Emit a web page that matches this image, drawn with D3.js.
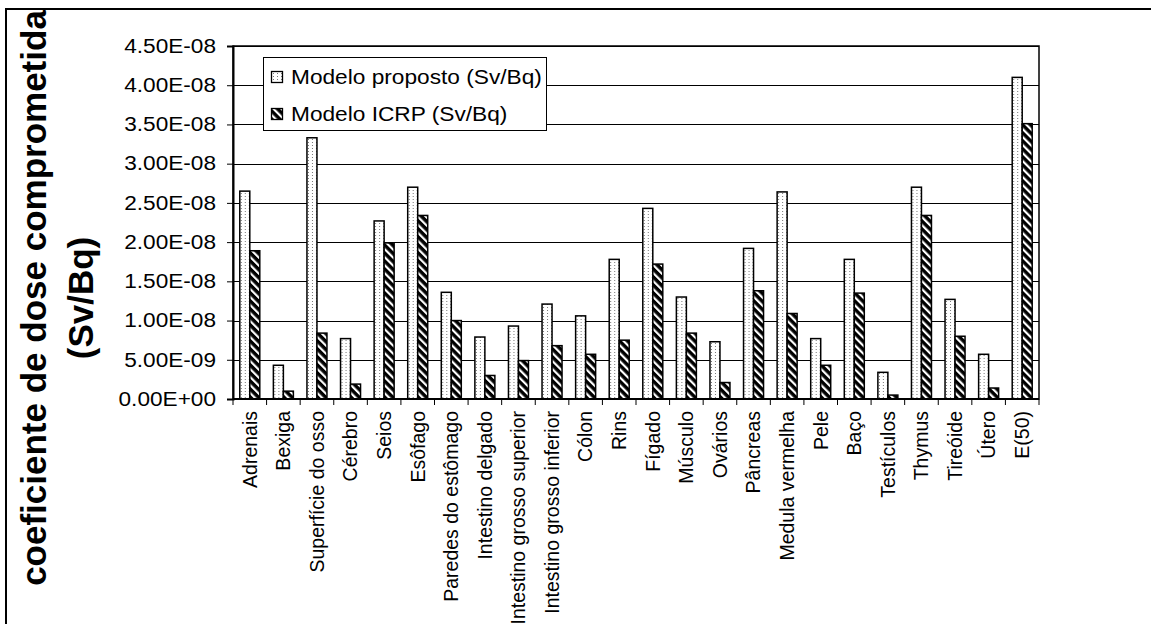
<!DOCTYPE html>
<html>
<head>
<meta charset="utf-8">
<script src="https://cdn.jsdelivr.net/npm/d3@7"></script>
<style>
  body { margin: 0; background: #fff; }
  svg { display: block; font-family: "Liberation Sans", Arial, sans-serif; }
</style>
</head>
<body>
<div id="chart"></div>
<script>
const categories = ['Adrenais', 'Bexiga', 'Superfície do osso', 'Cérebro', 'Seios', 'Esôfago',
  'Paredes do estômago', 'Intestino delgado', 'Intestino grosso superior', 'Intestino grosso inferior',
  'Cólon', 'Rins', 'Fígado', 'Músculo', 'Ovários', 'Pâncreas', 'Medula vermelha', 'Pele', 'Baço',
  'Testículos', 'Thymus', 'Tireóide', 'Útero', 'E(50)'];
const proposto = [2.65e-8, 0.43e-8, 3.33e-8, 0.77e-8, 2.27e-8, 2.70e-8, 1.36e-8, 0.79e-8, 0.93e-8, 1.21e-8,
  1.06e-8, 1.78e-8, 2.43e-8, 1.30e-8, 0.73e-8, 1.92e-8, 2.64e-8, 0.77e-8, 1.78e-8, 0.34e-8, 2.70e-8,
  1.27e-8, 0.57e-8, 4.10e-8];
const icrp = [1.89e-8, 0.10e-8, 0.84e-8, 0.19e-8, 1.99e-8, 2.34e-8, 1.00e-8, 0.30e-8, 0.49e-8, 0.68e-8,
  0.57e-8, 0.75e-8, 1.72e-8, 0.84e-8, 0.21e-8, 1.38e-8, 1.09e-8, 0.43e-8, 1.35e-8, 0.05e-8, 2.34e-8,
  0.80e-8, 0.14e-8, 3.51e-8];
const seriesNames = ['Modelo proposto (Sv/Bq)', 'Modelo ICRP (Sv/Bq)'];
const yTicks = [0, 0.5e-8, 1.0e-8, 1.5e-8, 2.0e-8, 2.5e-8, 3.0e-8, 3.5e-8, 4.0e-8, 4.5e-8];
const yTitle = ['coeficiente de dose comprometida', '(Sv/Bq)'];

const width = 1151, height = 624;
const plot = { left: 233, right: 1039, top: 46, bottom: 399 };

const svg = d3.select('#chart').append('svg').attr('width', width).attr('height', height);
svg.append('rect').attr('width', width).attr('height', height).attr('fill', '#fff');

const defs = svg.append('defs');
const dots = defs.append('pattern').attr('id', 'dots').attr('patternUnits', 'userSpaceOnUse')
  .attr('width', 4).attr('height', 3);
dots.append('rect').attr('width', 4).attr('height', 3).attr('fill', '#fff');
dots.append('rect').attr('x', 1).attr('y', 1).attr('width', 1).attr('height', 1).attr('fill', '#777');

const stripes = defs.append('pattern').attr('id', 'stripes').attr('patternUnits', 'userSpaceOnUse')
  .attr('width', 5.66).attr('height', 10).attr('patternTransform', 'rotate(-45)');
stripes.append('rect').attr('width', 5.66).attr('height', 10).attr('fill', '#000');
stripes.append('rect').attr('width', 2.2).attr('height', 10).attr('fill', '#fff');

// outer frame (only top and left visible)
svg.append('path').attr('d', `M6,${height} V9 H${width}`).attr('fill', 'none')
  .attr('stroke', '#000').attr('stroke-width', 2);

const x = d3.scaleBand().domain(categories).range([plot.left, plot.right]);
const y = d3.scaleLinear().domain([0, 4.5e-8]).range([plot.bottom, plot.top]);
const barW = 10;
const groupOffset = (x.bandwidth() - 2 * barW) / 2;

const fmt = (v) => {
  const [m, e] = v.toExponential(2).split('e');
  const n = Math.abs(+e);
  return `${m}E${+e < 0 ? '-' : '+'}${String(n).padStart(2, '0')}`;
};

// gridlines
svg.append('g').selectAll('line').data(yTicks.slice(1)).join('line')
  .attr('x1', plot.left).attr('x2', plot.right)
  .attr('y1', (d) => Math.round(y(d)) + 0.5).attr('y2', (d) => Math.round(y(d)) + 0.5)
  .attr('stroke', '#000').attr('stroke-width', 1);

// bars
const groups = svg.append('g').selectAll('g').data(categories).join('g')
  .attr('transform', (d) => `translate(${x(d) + groupOffset},0)`);
groups.append('rect')
  .attr('x', 0).attr('width', barW)
  .attr('y', (d, i) => y(proposto[i])).attr('height', (d, i) => plot.bottom - y(proposto[i]))
  .attr('fill', 'url(#dots)').attr('stroke', '#000').attr('stroke-width', 1.5);
groups.append('rect')
  .attr('x', barW).attr('width', barW)
  .attr('y', (d, i) => y(icrp[i])).attr('height', (d, i) => plot.bottom - y(icrp[i]))
  .attr('fill', 'url(#stripes)').attr('stroke', '#000').attr('stroke-width', 1.5);

// plot frame
svg.append('rect').attr('x', plot.left).attr('y', plot.top)
  .attr('width', plot.right - plot.left).attr('height', plot.bottom - plot.top)
  .attr('fill', 'none').attr('stroke', '#000').attr('stroke-width', 1.5);

// y axis
const yAxis = svg.append('g').attr('transform', `translate(${plot.left},0)`)
  .call(d3.axisLeft(y).tickValues(yTicks).tickFormat(fmt).tickSize(6).tickPadding(11));
yAxis.select('.domain').attr('stroke-width', 2);
yAxis.selectAll('.tick line').attr('stroke', '#000');
yAxis.selectAll('.tick text').attr('fill', '#000').attr('font-size', 19.5)
  .attr('font-family', '"Liberation Sans", Arial, sans-serif')
  .each(function () {
    this.setAttribute('textLength', this.getComputedTextLength() * 1.16);
    this.setAttribute('lengthAdjust', 'spacingAndGlyphs');
  });

// x axis: ticks between categories
const xAxis = svg.append('g').attr('transform', `translate(0,${plot.bottom})`);
xAxis.append('line').attr('x1', plot.left).attr('x2', plot.right).attr('stroke', '#000').attr('stroke-width', 2);
xAxis.selectAll('line.tk').data(categories.concat([null])).join('line').attr('class', 'tk')
  .attr('x1', (d, i) => plot.left + i * x.step()).attr('x2', (d, i) => plot.left + i * x.step())
  .attr('y1', 0).attr('y2', 6).attr('stroke', '#000');
xAxis.selectAll('text').data(categories).join('text')
  .attr('transform', (d) => `translate(${x(d) + x.bandwidth() / 2},12) rotate(-90)`)
  .attr('dy', '0.35em').attr('text-anchor', 'end').attr('font-size', 19.5).attr('fill', '#000')
  .text((d) => d);

// y title
svg.append('g').selectAll('text').data(yTitle).join('text')
  .attr('transform', (d, i) => `translate(${i ? 93 : 46},298) rotate(-90)`)
  .attr('text-anchor', 'middle').attr('font-size', 35).attr('font-weight', 'bold').attr('fill', '#000')
  .text((d) => d);

// legend
const legend = svg.append('g');
legend.append('rect').attr('x', 263.5).attr('y', 57.5).attr('width', 283).attr('height', 73)
  .attr('fill', '#fff').attr('stroke', '#000').attr('stroke-width', 1);
const items = legend.selectAll('g').data(seriesNames).join('g')
  .attr('transform', (d, i) => `translate(0,${i * 37})`);
items.append('rect').attr('x', 271.5).attr('y', 71.5).attr('width', 11).attr('height', 11)
  .attr('fill', (d, i) => (i ? 'url(#stripes)' : 'url(#dots)')).attr('stroke', '#000').attr('stroke-width', 1.3);
items.append('text').attr('x', 291).attr('y', 84).attr('font-size', 21).attr('fill', '#000')
  .text((d) => d)
  .each(function () {
    this.setAttribute('textLength', this.getComputedTextLength() * 1.08);
    this.setAttribute('lengthAdjust', 'spacingAndGlyphs');
  });
</script>
</body>
</html>
